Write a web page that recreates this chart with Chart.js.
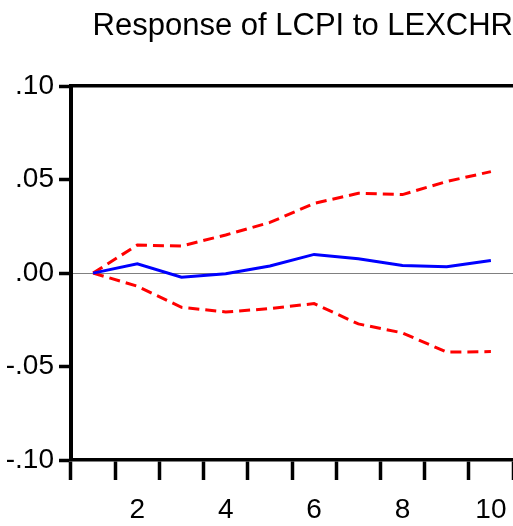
<!DOCTYPE html>
<html>
<head>
<meta charset="utf-8">
<script src="https://cdn.jsdelivr.net/npm/chart.js@4/dist/chart.umd.min.js"></script>
<style>
  html, body { margin: 0; padding: 0; background: #fff; }
  #wrap { width: 513px; height: 526px; }
</style>
</head>
<body>
<div id="wrap"><canvas id="myChart"></canvas></div>
<script>
// impulse response, periods 1..10
const periods = ['1', '2', '3', '4', '5', '6', '7', '8', '9', '10'];
const response = [0.0, 0.005, -0.0022, -0.0003, 0.0038, 0.010, 0.0077, 0.0041, 0.0034, 0.0068];
const upperBand = [0.0, 0.015, 0.0145, 0.0204, 0.0271, 0.0373, 0.0427, 0.042, 0.049, 0.0543];
const lowerBand = [0.0, -0.007, -0.0183, -0.0208, -0.019, -0.0163, -0.0272, -0.032, -0.0423, -0.042];
const yTicks = [-0.10, -0.05, 0.00, 0.05, 0.10];
const yTickLabels = ['-.10', '-.05', '.00', '.05', '.10'];

const tickFont = { family: 'Liberation Sans', size: 28 };

function createChart() {
  let ctx = document.getElementById('myChart').getContext('2d');
  return new Chart(ctx, {
    type: 'line',
    data: {
      labels: periods,
      datasets: [
        {
          label: 'response',
          data: response,
          borderColor: '#0000ff',
          borderWidth: 3,
          pointRadius: 0,
          tension: 0
        },
        {
          label: 'upper',
          data: upperBand,
          borderColor: '#ff0000',
          borderWidth: 3,
          borderDash: [11, 6],
          pointRadius: 0,
          tension: 0
        },
        {
          label: 'lower',
          data: lowerBand,
          borderColor: '#ff0000',
          borderWidth: 3,
          borderDash: [11, 6],
          pointRadius: 0,
          tension: 0
        }
      ]
    },
    options: {
      responsive: true,
      maintainAspectRatio: false,
      animation: false,
      layout: { padding: 0 },
      plugins: {
        legend: { display: false },
        tooltip: { enabled: false },
        title: {
          display: true,
          text: 'Response of LCPI to LEXCHR',
          align: 'end',
          color: '#000',
          font: { family: 'Liberation Sans', size: 31, weight: 'normal' },
          padding: { top: 8, bottom: 41 }
        }
      },
      scales: {
        x: {
          type: 'category',
          offset: true,
          border: { display: true, color: '#000', width: 3.5 },
          grid: {
            offset: true,
            drawOnChartArea: false,
            drawTicks: true,
            tickLength: 20,
            tickWidth: 3.5,
            tickColor: '#000'
          },
          ticks: {
            autoSkip: false,
            maxRotation: 0,
            color: '#000',
            font: tickFont,
            padding: 13,
            callback: function(val, i) {
              let lab = this.getLabelForValue(val);
              return Number(lab) % 2 === 0 ? lab : '';
            }
          },
          afterFit: function(scale) {
            // plot runs right up to the canvas edge
            scale.height = 66;
            scale.paddingLeft = 0;
            scale.paddingRight = 0;
          }
        },
        x2: {
          type: 'category',
          position: 'top',
          border: { display: true, color: '#000', width: 3.5 },
          grid: { display: false, drawTicks: false },
          ticks: { display: false },
          afterFit: function(scale) { scale.height = 0; }
        },
        y: {
          min: -0.1,
          max: 0.1,
          border: { display: true, color: '#000', width: 4 },
          afterBuildTicks: function(scale) {
            scale.ticks = yTicks.map(v => ({ value: v }));
          },
          grid: {
            drawTicks: true,
            tickLength: 12,
            tickWidth: 3.5,
            tickColor: '#000',
            color: c => (c.tick && c.tick.value === 0 ? '#808080' : 'rgba(0,0,0,0)'),
            lineWidth: 1
          },
          ticks: {
            color: '#000',
            font: tickFont,
            padding: 5,
            callback: function(val) {
              let i = yTicks.findIndex(t => Math.abs(t - val) < 1e-9);
              return i >= 0 ? yTickLabels[i] : '';
            }
          },
          afterFit: function(scale) { scale.width = 71; }
        }
      }
    }
  });
}

createChart();
</script>
</body>
</html>
